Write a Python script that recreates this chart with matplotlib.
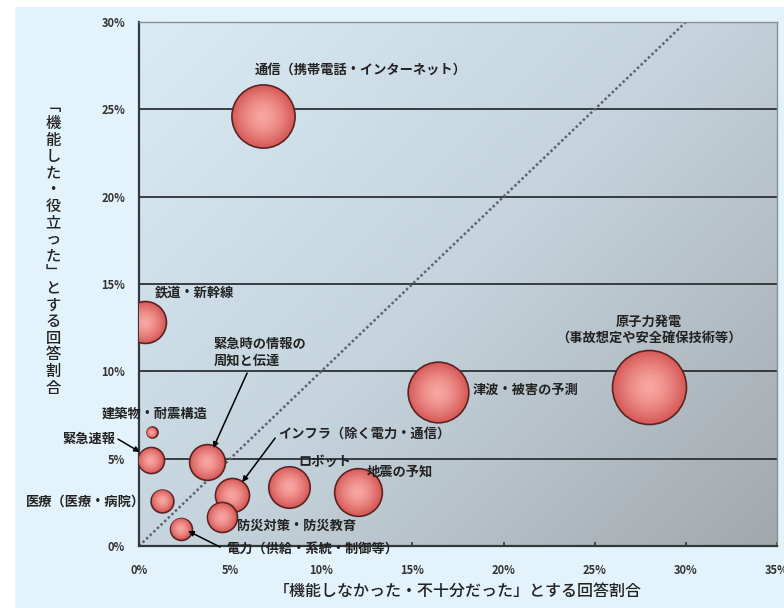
import numpy as np
import matplotlib
matplotlib.use("Agg")
import matplotlib.pyplot as plt
from matplotlib.colors import LinearSegmentedColormap, to_rgb
from matplotlib.patches import Rectangle

plt.rcParams["font.family"] = ["Noto Sans CJK JP", "DejaVu Sans"]

# bubble data (x: 「機能しなかった・不十分だった」%, y: 「機能した・役立った」%)
names = ["通信", "鉄道・新幹線", "建築物・耐震構造", "緊急速報", "緊急時の情報の周知と伝達",
         "医療", "インフラ", "防災対策・防災教育", "電力", "ロボット", "地震の予知",
         "津波・被害の予測", "原子力発電"]
x_vals = [6.8, 0.33, 0.7, 0.64, 3.75, 1.28, 5.1, 4.55, 2.3, 8.25, 12.0, 16.4, 28.0]
y_vals = [24.6, 12.8, 6.5, 4.9, 4.8, 2.6, 2.9, 1.65, 1.0, 3.4, 3.1, 8.8, 9.1]
sizes = [1000, 440, 30, 170, 320, 130, 290, 225, 120, 430, 570, 920, 1370]

x_ticks = [0, 5, 10, 15, 20, 25, 30, 35]
y_ticks = [0, 5, 10, 15, 20, 25, 30]

# labels: text, x, y, ha
labels = [
    ("通信（携帯電話・インターネット）", 6.37, 27.25, "left"),
    ("鉄道・新幹線", 0.88, 14.5, "left"),
    ("原子力発電\n（事故想定や安全確保技術等）", 27.97, 12.36, "center"),
    ("津波・被害の予測", 18.3, 8.93, "left"),
    ("緊急時の情報の\n周知と伝達", 4.07, 11.1, "left"),
    ("建築物・耐震構造", -2.03, 7.6, "left"),
    ("緊急速報", -1.32, 6.12, "right"),
    ("インフラ（除く電力・通信）", 7.64, 6.41, "left"),
    ("ロボット", 8.74, 4.8, "left"),
    ("地震の予知", 12.5, 4.25, "left"),
    ("医療（医療・病院）", -6.2, 2.52, "left"),
    ("防災対策・防災教育", 5.38, 1.14, "left"),
    ("電力（供給・系統・制御等）", 4.78, -0.17, "left"),
]

# leader arrows: (from_x, from_y, to_x, to_y)
arrows = [
    (5.93, 9.9, 4.07, 5.61),
    (-1.15, 6.12, 0.05, 5.38),
    (7.47, 6.18, 5.66, 3.66),
    (4.45, -0.06, 2.69, 0.86),
]

W, H = 784, 608
fig = plt.figure(figsize=(W / 100, H / 100), dpi=100, facecolor="white")
fig.patches.append(Rectangle((15 / W, 0), 1 - 15 / W, 1 - 7 / H, transform=fig.transFigure,
                             facecolor="#e3f3fb", edgecolor="none", zorder=-10))

ax = fig.add_axes([139 / W, 1 - 546 / H, (777 - 139) / W, (546 - 22) / H])

# gradient background (light blue top-left -> gray bottom-right)
gx, gy = np.meshgrid(np.linspace(0, 1, 300), np.linspace(0, 1, 300))
grad = 0.55 * gx + 0.45 * (1 - gy)
bg_cmap = LinearSegmentedColormap.from_list("bg", ["#d9ebf5", "#c4d3dc", "#a3a8ad"])
ax.imshow(grad, extent=[0, 35, 0, 30], origin="lower", cmap=bg_cmap,
          aspect="auto", zorder=0)
ax.set_xlim(0, 35)
ax.set_ylim(0, 30)

for yv in y_ticks[1:-1]:
    ax.axhline(yv, color="#2b3034", lw=1.3, zorder=1)

ax.plot([0, 30], [0, 30], ls=(0, (1, 1)), color="#5f646a", lw=1.8, zorder=1)

# bubbles with a soft radial shading
outer = np.array(to_rgb("#d85e5c"))
inner = np.array(to_rgb("#f9a8a4"))
n_layers = 14
for xv, yv, sv in zip(x_vals, y_vals, sizes):
    s = sv * 2.07
    ax.scatter([xv], [yv], s=s, facecolor=outer, edgecolor="#5b2222", lw=1.2, zorder=3)
    for k in range(1, n_layers):
        f = k / n_layers
        col = outer + (inner - outer) * f
        ax.scatter([xv], [yv], s=s * (1 - f) ** 1.3 * 0.92, facecolor=col,
                   edgecolor="none", zorder=3)

for text, tx, ty, ha in labels:
    ax.text(tx, ty, text, ha=ha, va="center", fontsize=9.5, fontweight="bold",
            color="#222222", linespacing=1.3, clip_on=False, zorder=5)

for fx, fy, tx, ty in arrows:
    ax.annotate("", xy=(tx, ty), xytext=(fx, fy), annotation_clip=False,
                arrowprops=dict(arrowstyle="-|>", color="black", lw=1.1,
                                mutation_scale=8, shrinkA=0, shrinkB=0), zorder=6)

ax.set_xticks(x_ticks)
ax.set_yticks(y_ticks)
ax.set_xticklabels([f"{v}%" for v in x_ticks])
ax.set_yticklabels([f"{v}%" for v in y_ticks])
ax.tick_params(axis="x", direction="in", length=3, width=1.2, pad=13, labelsize=8,
               labelcolor="#333333", color="#333333")
ax.tick_params(axis="y", direction="in", length=0, pad=10, labelsize=8,
               labelcolor="#333333")
for lab in ax.get_xticklabels() + ax.get_yticklabels():
    lab.set_fontweight("bold")

for side in ["left", "bottom"]:
    ax.spines[side].set_color("#33383c")
    ax.spines[side].set_linewidth(1.6)
for side in ["top", "right"]:
    ax.spines[side].set_color("#8a8f94")
    ax.spines[side].set_linewidth(1.0)

# x axis label
fig.text(458 / W, 1 - 591 / H, "「機能しなかった・不十分だった」とする回答割合",
         ha="center", va="center", fontsize=11.5, fontweight="medium", color="#222222")

# vertical y axis label, one character per position
ylabel = "﹁機能した・役立った﹂とする回答割合"
ys = np.linspace(107, 388, len(ylabel))
for ch, py in zip(ylabel, ys):
    fig.text(53 / W, 1 - py / H, ch, ha="center", va="center", fontsize=11,
             fontweight="medium", color="#222222")

fig.savefig("out.png", dpi=100, facecolor=fig.get_facecolor())
